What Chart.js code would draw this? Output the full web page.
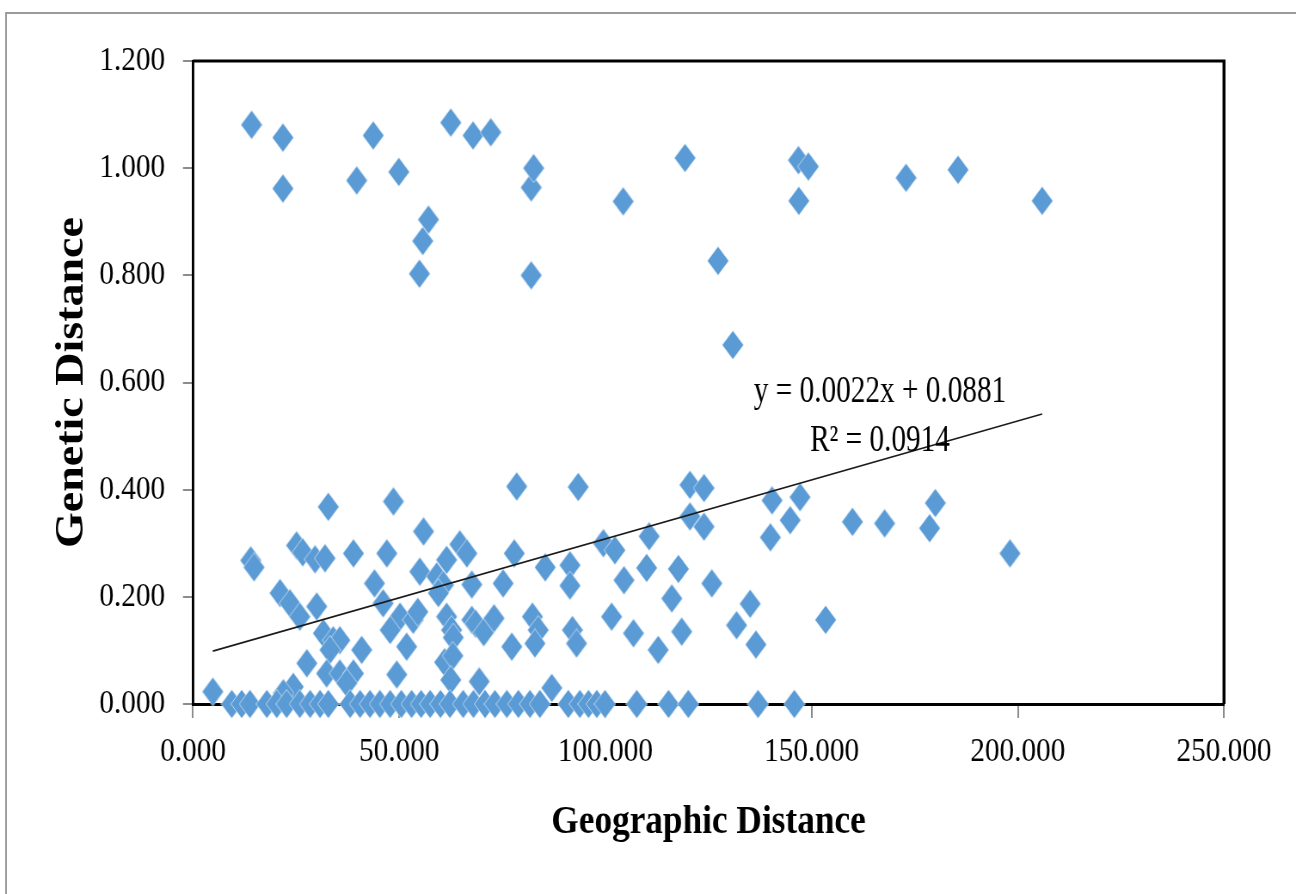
<!DOCTYPE html>
<html>
<head>
<meta charset="utf-8">
<script src="https://cdn.jsdelivr.net/npm/chart.js@4"></script>
<style>
  html, body { margin: 0; padding: 0; background: #fff; overflow: hidden; }
</style>
</head>
<body>
<canvas id="chart" width="1507" height="894" style="display:block;width:1296px;height:894px"></canvas>
<script>
// values: geographic distance (x) vs genetic distance (y)
const upperX = [14.2, 21.8, 21.8, 39.7, 43.7, 49.9, 54.9, 55.7, 57.1, 62.5, 67.9, 72.2, 82.0, 82.0, 82.6,
                104.3, 119.3, 127.3, 130.9, 146.8, 149.2, 146.9, 172.9, 185.5, 205.9];
const upperY = [1.081, 1.057, 0.962, 0.977, 1.061, 0.993, 0.803, 0.864, 0.904, 1.085, 1.061, 1.067, 0.800, 0.964, 1.000,
                0.938, 1.019, 0.827, 0.670, 1.015, 1.003, 0.939, 0.982, 0.997, 0.939];

const midX = [32.8, 48.6, 55.9, 78.5, 93.4, 120.5, 123.9, 120.5, 123.9, 140.4, 147.2, 144.8, 140.0, 159.9, 167.7,
              180.0, 178.6, 198.1, 110.6, 99.5, 102.3];
const midY = [0.368, 0.378, 0.322, 0.406, 0.405, 0.409, 0.403, 0.350, 0.331, 0.380, 0.386, 0.343, 0.311, 0.340, 0.337,
              0.375, 0.328, 0.281, 0.313, 0.300, 0.287];

const lowX = [4.8, 14.0, 14.8, 25.1, 26.6, 29.6, 32.0, 38.9, 47.0, 44.0, 21.1, 23.5, 25.9, 30.0, 31.6, 34.0, 35.6, 33.2,
              40.9, 27.6, 32.4, 35.6, 38.9, 37.3, 24.3, 21.9, 49.4, 46.1, 50.2, 53.4, 51.8, 47.8, 54.5, 55.0, 59.1, 60.7,
              61.5, 64.7, 66.4, 59.5, 61.5, 62.7, 63.1, 61.0, 63.0, 62.5, 67.6, 75.2, 77.9, 85.4, 91.4, 91.4, 67.6, 68.5,
              70.5, 73.0, 77.3, 82.3, 83.7, 82.9, 92.0, 93.0, 69.4, 87.0, 101.5, 106.8, 112.8, 118.5, 116.1, 104.5, 110.0,
              117.7, 125.8, 135.1, 131.8, 136.5, 153.4];
const lowY = [0.023, 0.268, 0.255, 0.296, 0.283, 0.270, 0.272, 0.281, 0.281, 0.225, 0.207, 0.188, 0.163, 0.182, 0.132, 0.119, 0.119, 0.101,
              0.101, 0.076, 0.057, 0.057, 0.057, 0.039, 0.032, 0.020, 0.055, 0.188, 0.163, 0.157, 0.107, 0.138, 0.172, 0.247, 0.238, 0.222,
              0.269, 0.298, 0.281, 0.207, 0.163, 0.138, 0.124, 0.078, 0.090, 0.045, 0.223, 0.225, 0.281, 0.255, 0.259, 0.221, 0.157, 0.150,
              0.134, 0.160, 0.107, 0.163, 0.138, 0.113, 0.138, 0.113, 0.042, 0.030, 0.163, 0.132, 0.101, 0.135, 0.197, 0.231, 0.254,
              0.252, 0.225, 0.187, 0.147, 0.111, 0.157];

// points sitting on the x axis (genetic distance 0)
const zeroRowX = [9.4, 11.8, 13.8, 17.9, 20.3, 22.7, 25.9, 28.4, 30.8, 32.8, 38.1, 40.5, 42.9, 45.3, 47.8, 50.5, 53.0,
                  55.3, 57.5, 60.0, 62.3, 65.5, 68.0, 70.8, 73.2, 76.1, 78.9, 81.7, 84.1, 91.0, 93.8, 95.9, 97.9, 99.9,
                  107.6, 115.3, 120.1, 137.0, 145.8];

// linear trend as printed on the chart
const slope = 0.0022, intercept = 0.0881, rSquared = 0.0914;
const trendRange = [4.8, 205.9];

// the source picture is squeezed sideways, so the canvas is drawn wider and scaled down by css
const squeeze = 1296 / 1507;
const sx = v => v / squeeze;

const pairs = (xs, ys) => xs.map((x, i) => ({ x: x, y: ys[i] }));
const points = [].concat(pairs(upperX, upperY), pairs(midX, midY), pairs(lowX, lowY),
                         zeroRowX.map(x => ({ x: x, y: 0 })));
const trendPoints = trendRange.map(x => ({ x: x, y: intercept + slope * x }));

function makeDiamond(w, h, color) {
  const c = document.createElement('canvas');
  c.width = w; c.height = h;
  const g = c.getContext('2d');
  g.beginPath();
  g.moveTo(w / 2, 0.5);
  g.lineTo(w - 0.5, h / 2);
  g.lineTo(w / 2, h - 0.5);
  g.lineTo(0.5, h / 2);
  g.closePath();
  g.fillStyle = color;
  g.fill();
  g.strokeStyle = 'rgba(255,255,255,0.6)';
  g.lineWidth = 1;
  g.stroke();
  return c;
}
const diamond = makeDiamond(26, 30, '#5B9BD5');

const serif = 'Liberation Serif';

const framePlugin = {
  id: 'frame',
  beforeDraw(chart) {
    const ctx = chart.ctx;
    ctx.save();
    ctx.fillStyle = '#fff';
    ctx.fillRect(0, 0, chart.width, chart.height);
    ctx.strokeStyle = '#9a9a9a';
    ctx.lineWidth = 2;
    ctx.beginPath();
    ctx.moveTo(sx(6), chart.height);
    ctx.lineTo(sx(6), 13);
    ctx.lineTo(chart.width, 13);
    ctx.stroke();
    ctx.restore();
  },
  beforeDatasetsDraw(chart) {
    const { ctx, chartArea: a } = chart;
    ctx.save();
    ctx.strokeStyle = '#000';
    ctx.lineWidth = 3;
    ctx.beginPath();
    ctx.moveTo(a.left, a.top);
    ctx.lineTo(a.right + sx(1.5), a.top);
    ctx.stroke();
    ctx.lineWidth = sx(3);
    ctx.beginPath();
    ctx.moveTo(a.right, a.top);
    ctx.lineTo(a.right, a.bottom);
    ctx.stroke();
    ctx.restore();
  },
  afterDatasetsDraw(chart) {
    // trend equation, a bit narrower than the rest of the text as in the source
    const ctx = chart.ctx;
    ctx.save();
    ctx.translate(sx(880), 0);
    ctx.scale(0.92, 1);
    ctx.fillStyle = '#000';
    ctx.font = '37px "' + serif + '"';
    ctx.textAlign = 'center';
    ctx.textBaseline = 'middle';
    ctx.fillText('y = ' + slope.toFixed(4) + 'x + ' + intercept.toFixed(4), 0, 392);
    ctx.fillText('R\u00B2 = ' + rSquared.toFixed(4), 0, 441);
    ctx.restore();
  }
};

new Chart(document.getElementById('chart'), {
  type: 'scatter',
  data: {
    datasets: [
      {
        label: 'Linear trend',
        data: trendPoints,
        showLine: true,
        borderColor: '#1a1a1a',
        borderWidth: 1.6,
        pointRadius: 0,
        fill: false,
        order: 0,
        clip: false
      },
      {
        label: 'Genetic Distance',
        data: points,
        pointStyle: diamond,
        pointRadius: 15,
        backgroundColor: '#5B9BD5',
        order: 1,
        clip: false
      }
    ]
  },
  options: {
    responsive: false,
    animation: false,
    events: [],
    layout: { padding: { left: 56, right: 1507 - sx(1224), top: 61, bottom: 40 } },
    plugins: { legend: { display: false }, tooltip: { enabled: false } },
    scales: {
      x: {
        type: 'linear',
        position: 'bottom',
        min: 0,
        max: 250,
        afterFit: s => { s.height = 150; },
        ticks: {
          stepSize: 50,
          autoSkip: false,
          maxRotation: 0,
          padding: 13.6,
          color: '#000',
          font: { family: serif, size: 34 },
          callback: v => v.toFixed(3)
        },
        grid: { drawOnChartArea: false, drawTicks: true, tickLength: 14, color: '#8c8c8c', lineWidth: 2 },
        border: { display: true, color: '#000', width: 3 },
        title: {
          display: true,
          text: 'Geographic Distance',
          color: '#000',
          font: { family: serif, size: 41, weight: 'bold' },
          padding: { top: 0, bottom: 7 }
        }
      },
      y: {
        type: 'linear',
        position: 'left',
        min: 0,
        max: 1.2,
        afterFit: s => { s.width = sx(193) - 56; },
        ticks: {
          stepSize: 0.2,
          padding: 20.9,
          color: '#000',
          font: { family: serif, size: 34 },
          callback: v => v.toFixed(3)
        },
        grid: { drawOnChartArea: false, drawTicks: true, tickLength: sx(10), color: '#8c8c8c', lineWidth: 2 },
        border: { display: true, color: '#000', width: sx(2.5) },
        title: {
          display: true,
          text: 'Genetic Distance',
          color: '#000',
          font: { family: serif, size: 46, weight: 'bold' },
          padding: { top: 1, bottom: 0 }
        }
      }
    }
  },
  plugins: [framePlugin]
});
</script>
</body>
</html>
